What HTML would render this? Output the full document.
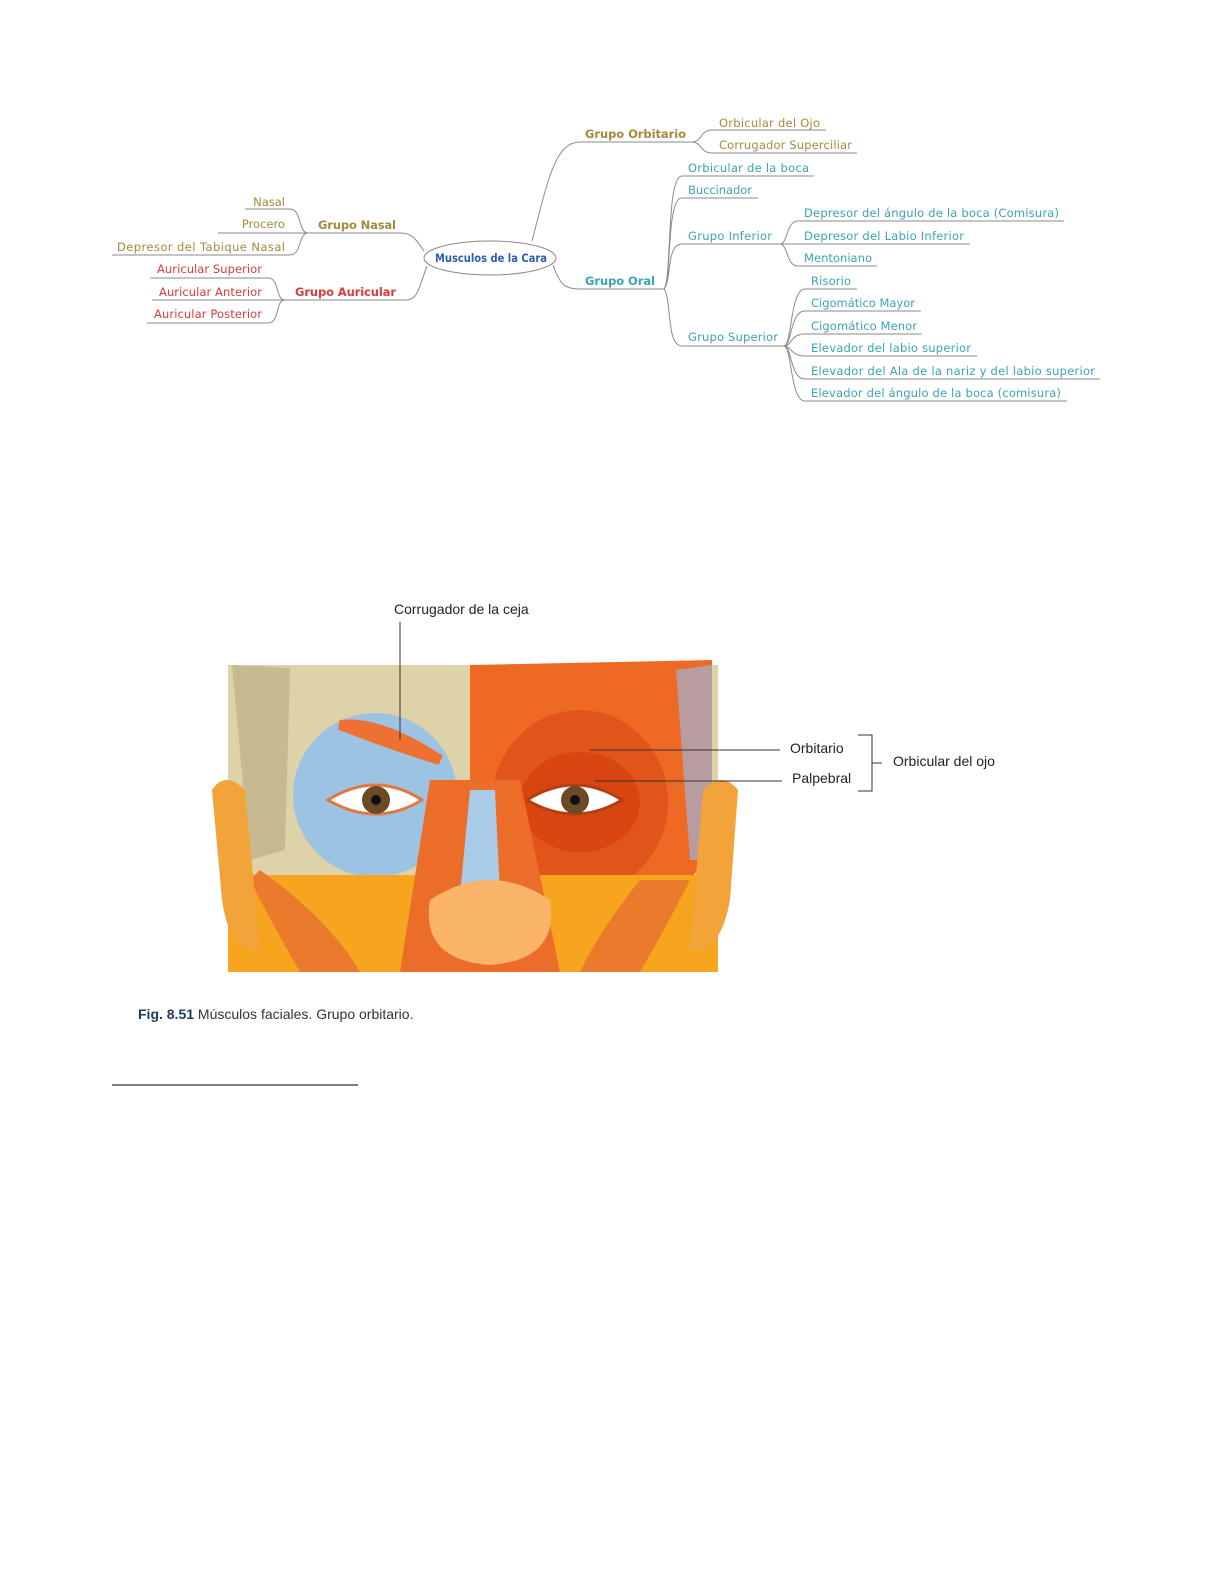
<!DOCTYPE html>
<html><head><meta charset="utf-8"><style>
html,body{margin:0;padding:0;background:#fff;width:1224px;height:1584px;overflow:hidden;}
svg{display:block;}
.t{font-family:"DejaVu Sans","Liberation Sans",sans-serif;font-size:11.5px;}
.b{font-weight:bold;}
.o{fill:#a48a3e}.r{fill:#d83c3c}.c{fill:#3aa3b6}
</style></head><body>
<svg width="1224" height="1584" viewBox="0 0 1224 1584" xmlns="http://www.w3.org/2000/svg">
<g fill="none" stroke="#8a8a8a" stroke-width="1">
<ellipse cx="490" cy="258" rx="66" ry="17" fill="#fff"/>
<path d="M532 241 C548 180 555 142 580 142 L692 142"/>
<path d="M692 142 C702 142 700 130 712 130 L826 130"/>
<path d="M692 142 C702 142 700 153 712 153 L857 153"/>
<path d="M553 265 C560 285 565 289 580 289 L664 289"/>
<path d="M664 289 C672 280 666 176 682 176 L814 176"/>
<path d="M664 289 C672 280 666 198 682 198 L758 198"/>
<path d="M664 289 C672 280 666 244 682 244 L780 244"/>
<path d="M664 289 C672 300 666 346 682 346 L784 346"/>
<path d="M780 244 C788 244 786 221 798 221 L1064 221"/>
<path d="M780 244 L970 244"/>
<path d="M780 244 C788 244 786 266 798 266 L877 266"/>
<path d="M784 346 C792 346 790 289 805 289 L857 289"/>
<path d="M784 346 C792 346 790 311 805 311 L921 311"/>
<path d="M784 346 C792 346 790 334 805 334 L922 334"/>
<path d="M784 346 C792 346 790 356 805 356 L977 356"/>
<path d="M784 346 C792 346 790 379 805 379 L1100 379"/>
<path d="M784 346 C792 346 790 401 805 401 L1067 401"/>
<path d="M424 251 C415 238 412 233 400 233 L308 233"/>
<path d="M308 233 C298 233 302 209 290 209 L245 209"/>
<path d="M308 233 L218 233"/>
<path d="M308 233 C298 233 302 255 290 255 L112 255"/>
<path d="M427 266 C418 290 418 300 405 300 L285 300"/>
<path d="M285 300 C275 300 280 278 268 278 L150 278"/>
<path d="M285 300 L152 300"/>
<path d="M285 300 C275 300 280 323 268 323 L147 323"/>
</g>
<text x="435" y="262" class="t b" fill="#2c5cb4" font-size="10.5" textLength="112" lengthAdjust="spacingAndGlyphs">Musculos de la Cara</text>
<text x="585" y="138" class="t b o" textLength="101">Grupo Orbitario</text>
<text x="719" y="127" class="t o" textLength="101">Orbicular del Ojo</text>
<text x="719" y="149" class="t o" textLength="133">Corrugador Superciliar</text>
<text x="585" y="285" class="t b c" textLength="70">Grupo Oral</text>
<text x="688" y="172" class="t c" textLength="121">Orbicular de la boca</text>
<text x="688" y="194" class="t c" textLength="64">Buccinador</text>
<text x="688" y="240" class="t c" textLength="84">Grupo Inferior</text>
<text x="804" y="217" class="t c" textLength="255">Depresor del ángulo de la boca (Comisura)</text>
<text x="804" y="240" class="t c" textLength="160">Depresor del Labio Inferior</text>
<text x="804" y="262" class="t c" textLength="68">Mentoniano</text>
<text x="688" y="341" class="t c" textLength="90">Grupo Superior</text>
<text x="811" y="285" class="t c" textLength="40">Risorio</text>
<text x="811" y="307" class="t c" textLength="104">Cigomático Mayor</text>
<text x="811" y="330" class="t c" textLength="106">Cigomático Menor</text>
<text x="811" y="352" class="t c" textLength="160">Elevador del labio superior</text>
<text x="811" y="375" class="t c" textLength="284">Elevador del Ala de la nariz y del labio superior</text>
<text x="811" y="397" class="t c" textLength="250">Elevador del ángulo de la boca (comisura)</text>
<text x="318" y="229" class="t b o" textLength="78">Grupo Nasal</text>
<text x="285" y="206" class="t o" text-anchor="end">Nasal</text>
<text x="285" y="228" class="t o" text-anchor="end">Procero</text>
<text x="117" y="251" class="t o" textLength="168">Depresor del Tabique Nasal</text>
<text x="157" y="273" class="t r" textLength="105">Auricular Superior</text>
<text x="159" y="296" class="t r" textLength="103">Auricular Anterior</text>
<text x="154" y="318" class="t r" textLength="108">Auricular Posterior</text>
<text x="295" y="296" class="t b r" textLength="101">Grupo Auricular</text>

<g>
<rect x="228" y="665" width="490" height="307" fill="#ddd2a8"/>
<path d="M470 665 L712 660 L712 850 L690 880 L470 880 Z" fill="#ee6a24"/>
<path d="M676 670 L712 665 L712 860 L690 860 Z" fill="#b89ca0"/>
<path d="M232 665 L290 668 L285 850 L250 860 Z" fill="#c6bb90"/>
<ellipse cx="580" cy="802" rx="88" ry="92" fill="#e2551a"/>
<ellipse cx="580" cy="802" rx="60" ry="50" fill="#d84510"/>
<ellipse cx="375" cy="795" rx="82" ry="82" fill="#9cc3e2"/>
<path d="M340 725 Q380 720 440 760 Q400 748 340 725 Z" fill="#ee7032" stroke="#ee7032" stroke-width="10"/>
<path d="M228 875 L718 875 L718 972 L228 972 Z" fill="#f7a51e"/>
<path d="M260 870 Q330 920 360 972 L300 972 Q270 920 250 880 Z" fill="#ea7a2c"/>
<path d="M640 880 Q600 930 580 972 L640 972 Q670 920 690 880 Z" fill="#ea7a2c"/>
<path d="M430 780 L520 780 L560 972 L400 972 Z" fill="#ec6d2a"/>
<path d="M470 790 L495 790 L500 895 L460 895 Z" fill="#a9cbe8"/>
<path d="M430 900 Q490 860 550 900 Q560 960 490 965 Q420 960 430 900 Z" fill="#f9b46a"/>
<path d="M212 790 Q225 770 245 790 L260 950 Q230 955 222 900 Z" fill="#f2a43a"/>
<path d="M738 790 Q722 770 703 790 L690 950 Q720 955 730 900 Z" fill="#f2a43a"/>
<path d="M328 800 Q376 770 422 800 Q376 828 328 800 Z" fill="#fff" stroke="#e07840" stroke-width="3"/>
<circle cx="376" cy="800" r="14" fill="#6b4a26"/><circle cx="376" cy="800" r="5" fill="#111"/>
<path d="M527 800 Q575 770 622 800 Q575 828 527 800 Z" fill="#fff" stroke="#b04010" stroke-width="3"/>
<circle cx="575" cy="800" r="14" fill="#6b4a26"/><circle cx="575" cy="800" r="5" fill="#111"/>
</g>
<g stroke="#333" stroke-width="1" fill="none">
<path d="M400 622 L400 740"/>
<path d="M590 750 L780 750"/>
<path d="M595 781 L782 781"/>
<path d="M858 735 L872 735 L872 791 L858 791 M872 763 L882 763"/>
</g>
<g font-family="Liberation Sans, sans-serif" font-size="14" fill="#222">
<text x="394" y="614">Corrugador de la ceja</text>
<text x="790" y="753">Orbitario</text>
<text x="792" y="783">Palpebral</text>
<text x="893" y="766">Orbicular del ojo</text>
</g>
<text x="138" y="1019" font-family="Liberation Sans, sans-serif" font-size="14" fill="#1e3a5c"><tspan font-weight="bold">Fig. 8.51</tspan><tspan fill="#333">  Músculos faciales. Grupo orbitario.</tspan></text>
<line x1="112" y1="1085" x2="358" y2="1085" stroke="#000" stroke-width="1"/>
</svg>
</body></html>
